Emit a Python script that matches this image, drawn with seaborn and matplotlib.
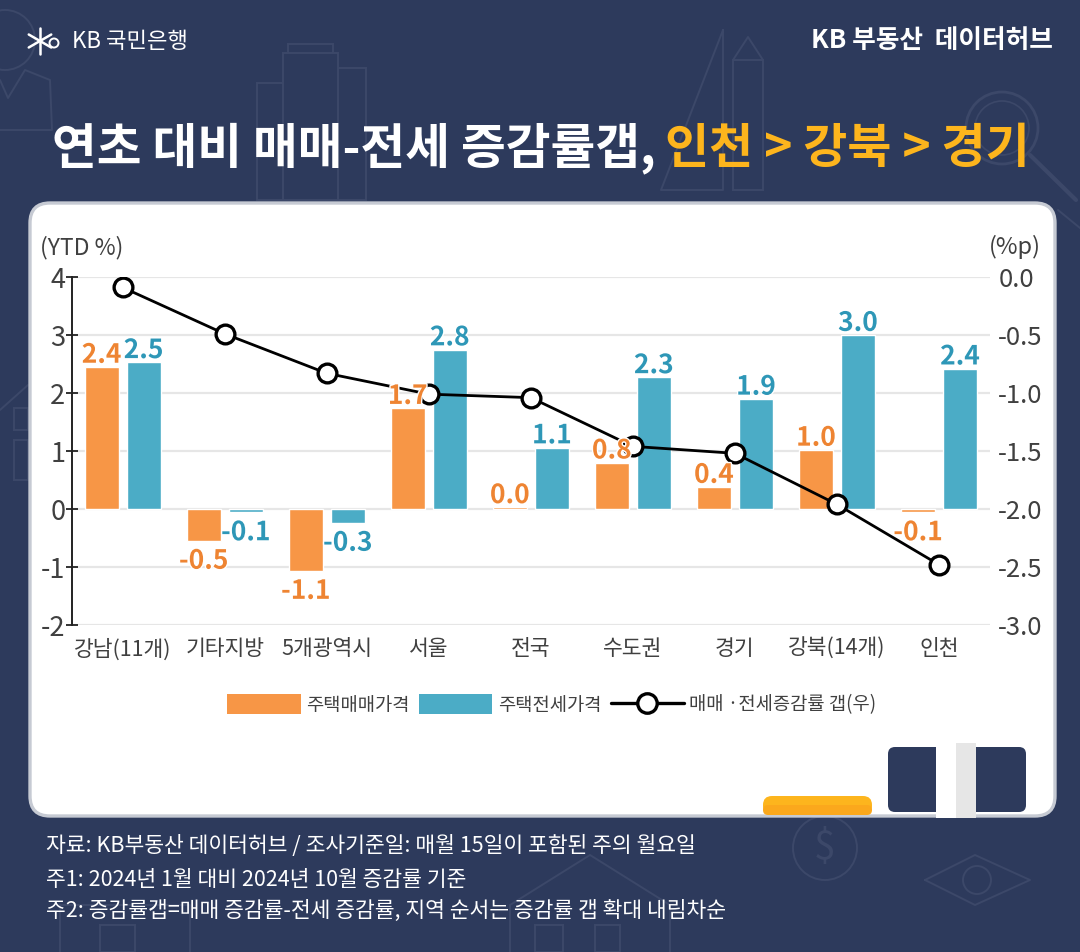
import numpy as np
import pandas as pd
import matplotlib
matplotlib.use("Agg")
import matplotlib.pyplot as plt
import matplotlib.patheffects as pe
from matplotlib.patches import FancyBboxPatch, Rectangle, Circle, Polygon, Patch
from matplotlib.lines import Line2D
import seaborn as sns

categories = ["강남(11개)", "기타지방", "5개광역시", "서울", "전국", "수도권", "경기", "강북(14개)", "인천"]
sale = [2.45, -0.55, -1.07, 1.74, 0.03, 0.80, 0.38, 1.02, -0.06]
jeonse = [2.53, -0.06, -0.24, 2.75, 1.06, 2.27, 1.90, 3.00, 2.42]
gap = [-0.09, -0.49, -0.83, -1.01, -1.04, -1.46, -1.52, -1.96, -2.48]
sale_labels = ["2.4", "-0.5", "-1.1", "1.7", "0.0", "0.8", "0.4", "1.0", "-0.1"]
jeonse_labels = ["2.5", "-0.1", "-0.3", "2.8", "1.1", "2.3", "1.9", "3.0", "2.4"]
left_ticks = [4, 3, 2, 1, 0, -1, -2]
right_ticks = [0.0, -0.5, -1.0, -1.5, -2.0, -2.5, -3.0]
series = ["주택매매가격", "주택전세가격"]
gap_name = "매매 ·전세증감률 갭(우)"
title_white = "연초 대비 매매-전세 증감률갭,"
title_gold = "인천 > 강북 > 경기"
notes = ["자료: KB부동산 데이터허브 / 조사기준일: 매월 15일이 포함된 주의 월요일",
         "주1: 2024년 1월 대비 2024년 10월 증감률 기준",
         "주2: 증감률갭=매매 증감률-전세 증감률, 지역 순서는 증감률 갭 확대 내림차순"]

NAVY = "#2D3A5C"; DECO = "#3C4869"; ORANGE = "#F79646"; BLUE = "#4BACC6"
ORANGE_T = "#EE8432"; BLUE_T = "#2E97B7"; GOLD = "#FDB51D"; GREY = "#E6E6E6"; TXT = "#404040"

sns.set_theme(style="white")
plt.rcParams["font.family"] = ["Noto Sans CJK KR", "DejaVu Sans"]
plt.rcParams["axes.unicode_minus"] = False

W, H = 1080, 952
fig = plt.figure(figsize=(W / 100, H / 100), dpi=100, facecolor=NAVY)

# page layer in pixel coordinates
bg = fig.add_axes([0, 0, 1, 1], zorder=0)
bg.set_xlim(0, W); bg.set_ylim(H, 0); bg.axis("off")

def poly(pts, lw=1.4, closed=False):
    xs, ys = zip(*pts)
    if closed:
        xs += (xs[0],); ys += (ys[0],)
    bg.plot(xs, ys, color=DECO, lw=lw, zorder=1, solid_joinstyle="round")

def box(x, y, w, h, lw=1.4):
    bg.add_patch(Rectangle((x, y), w, h, fill=False, ec=DECO, lw=lw, zorder=1))

# faint background drawings
bg.add_patch(Circle((5, 40), 30, fill=False, ec=DECO, lw=1.4, zorder=1))
poly([(0, 80), (8, 98), (25, 70), (50, 80), (52, 130), (0, 130)])
box(283, 53, 55, 147); box(288, 44, 45, 9); box(257, 83, 26, 117); box(338, 68, 28, 132)
poly([(723, 30), (723, 190), (661, 190)], closed=True)
box(733, 60, 30, 130); poly([(733, 60), (748, 37), (763, 60)])
bg.add_patch(Circle((1002, 128), 36, fill=False, ec=DECO, lw=2, zorder=1))
bg.add_patch(Circle((1002, 128), 27, fill=False, ec=DECO, lw=1.2, zorder=1))
poly([(1030, 155), (1076, 200)], lw=3)
poly([(0, 410), (28, 385)]); box(14, 408, 14, 22); box(14, 440, 14, 40)
poly([(1058, 210), (1080, 228)])
bg.add_patch(Circle((825, 848), 32, fill=False, ec=DECO, lw=1.4, zorder=1))
bg.text(825, 848, "$", color=DECO, fontsize=28, ha="center", va="center", zorder=1)
poly([(925, 880), (975, 855), (1030, 880), (975, 905)], closed=True)
bg.add_patch(Circle((977, 880), 14, fill=False, ec=DECO, lw=1.4, zorder=1))
poly([(510, 952), (510, 905), (590, 855), (670, 905), (670, 952)]); box(535, 925, 28, 27); box(595, 925, 25, 27)
poly([(60, 952), (60, 905), (190, 905), (190, 952)]); box(100, 925, 35, 27)

# white card
bg.add_patch(FancyBboxPatch((30, 203), 1025, 613, boxstyle="round,pad=0,rounding_size=20",
                            fc="white", ec="#C6CAD3", lw=2.4, zorder=2))
bg.add_patch(FancyBboxPatch((888, 747), 138, 65, boxstyle="round,pad=0,rounding_size=7",
                            fc=NAVY, ec="none", zorder=3))
bg.add_patch(Rectangle((936, 743), 20, 75, fc="white", ec="none", zorder=4))
bg.add_patch(Rectangle((956, 743), 20, 75, fc=GREY, ec="none", zorder=4))
bg.add_patch(FancyBboxPatch((763, 796), 109, 19, boxstyle="round,pad=0,rounding_size=9",
                            fc=GOLD, ec="none", zorder=3))
bg.add_patch(FancyBboxPatch((763, 805), 109, 10, boxstyle="round,pad=0,rounding_size=5",
                            fc="#FBA81C", ec="none", zorder=3))

# header, title, notes
for a in (90, 30, -30):
    t = np.deg2rad(a)
    bg.plot([40 - 13 * np.cos(t), 40 + 13 * np.cos(t)], [41 + 13 * np.sin(t), 41 - 13 * np.sin(t)],
            color="white", lw=1.8, zorder=5)
bg.add_patch(Circle((54, 43), 4.5, fill=False, ec="white", lw=1.4, zorder=5))
bg.text(72, 41, "KB 국민은행", color="white", fontsize=16, ha="left", va="center", zorder=5)
bg.text(1053, 40, "KB 부동산  데이터허브", color="white", fontsize=18.5, fontweight="bold",
        ha="right", va="center", zorder=5)
bg.text(52, 163, title_white, color="white", fontsize=35, fontweight="bold", ha="left", va="baseline", zorder=5)
bg.text(1030, 163, title_gold, color=GOLD, fontsize=34.5, fontweight="bold", ha="right", va="baseline", zorder=5)
for s, y in zip(notes, (852, 886, 917)):
    bg.text(46, y, s, color="white", fontsize=15.5, ha="left", va="baseline", zorder=5)
bg.text(40, 254, "(YTD %)", color=TXT, fontsize=16.5, ha="left", va="baseline", zorder=5)
bg.text(1041, 254, "(%p)", color=TXT, fontsize=17, ha="right", va="baseline", zorder=5)

# chart
L, R, T, B = 71.6, 990, 277, 625
ax = fig.add_axes([L / W, 1 - B / H, (R - L) / W, (B - T) / H], zorder=2)
ax.patch.set_alpha(0)
df = pd.DataFrame({"cat": categories * 2, "series": [series[0]] * 9 + [series[1]] * 9, "v": sale + jeonse})
sns.barplot(data=df, x="cat", y="v", hue="series", order=categories, hue_order=series,
            palette=[ORANGE, BLUE], width=0.824, gap=0.19, saturation=1, errorbar=None,
            legend=False, ax=ax, zorder=3)
ax.set_xlim(-0.5, 8.5); ax.set_ylim(-2, 4)
ax.set_yticks(left_ticks); ax.set_xlabel(""); ax.set_ylabel("")
ax.grid(axis="y", color=GREY, lw=1.6, zorder=0); ax.grid(axis="x", visible=False)
ax.set_axisbelow(True)
for s in ("top", "right", "bottom"):
    ax.spines[s].set_visible(False)
ax.spines["left"].set_color("#222222"); ax.spines["left"].set_linewidth(1.4)
ax.tick_params(axis="y", direction="inout", length=9, width=1.3, color="#222222", labelsize=19.5,
               labelcolor=TXT, pad=0, left=True)
ax.tick_params(axis="x", length=0, labelsize=15.5, labelcolor=TXT, pad=9.5)

ax2 = ax.twinx()
ax2.patch.set_alpha(0)
sns.lineplot(x=categories, y=gap, sort=False, color="black", lw=2, marker="o", markersize=13.5,
             markerfacecolor="white", markeredgecolor="black", markeredgewidth=2.4, legend=False, ax=ax2)
ax2.set_ylim(-3, 0); ax2.set_yticks(right_ticks); ax2.set_yticklabels([f"{v:.1f}" for v in right_ticks])
ax2.set_ylabel("")
for s in ax2.spines.values():
    s.set_visible(False)
ax2.tick_params(axis="y", length=0, labelsize=18.5, labelcolor=TXT, pad=6)
ax2.grid(False)

off = 0.206
halo = [pe.withStroke(linewidth=2, foreground="white")]
for vals, labs, sign, col in ((sale, sale_labels, -1, ORANGE_T), (jeonse, jeonse_labels, 1, BLUE_T)):
    for i, (v, s) in enumerate(zip(vals, labs)):
        dy = 3 if v >= 0 else -20
        ax2.annotate(s, xy=(i + sign * off, v), xycoords=ax.transData, xytext=(0, dy), textcoords="offset points",
                     ha="center", va="baseline", fontsize=19, fontweight="bold", color=col,
                     path_effects=halo, zorder=10, annotation_clip=False)

handles = [Patch(fc=ORANGE, ec="none", label=series[0]), Patch(fc=BLUE, ec="none", label=series[1]),
           Line2D([], [], color="black", lw=2.4, marker="o", markersize=14, mfc="white", mec="black", mew=2.4,
                  label=gap_name)]
fig.legend(handles=handles, ncol=3, loc="center", bbox_to_anchor=(552 / W, 1 - 705 / H), frameon=False,
           fontsize=13.5, labelcolor=TXT, handlelength=3.9, handleheight=1.25, handletextpad=0.3,
           columnspacing=0.5, borderpad=0, borderaxespad=0)
fig.savefig("out.png", dpi=100, facecolor=NAVY)
